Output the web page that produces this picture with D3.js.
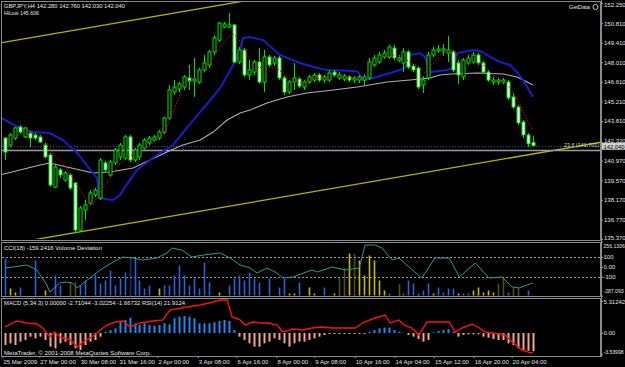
<!DOCTYPE html>
<html><head><meta charset="utf-8">
<script src="https://cdn.jsdelivr.net/npm/d3@7"></script>
<style>html,body{margin:0;padding:0;background:#000;}svg{display:block;}text{font-family:"Liberation Sans",Arial,sans-serif;}</style>
</head><body><svg id="c" width="625" height="367"></svg>
<script>
// ---------- DATA ----------
const open = [142.59,142.09,142.59,143.38,142.67,142.95,142.81,142.67,142.09,141.38,
 139.09,140.31,139.59,139.95,139.38,136.01,137.44,137.94,138.52,138.30,
 140.81,139.95,140.81,141.24,141.16,142.67,141.02,141.24,141.88,142.24,
 142.45,142.59,143.02,144.02,145.88,146.10,146.24,146.89,146.67,146.60,
 147.46,147.82,148.75,149.60,150.53,150.53,150.68,148.03,148.89,147.10,
 147.31,148.03,146.60,148.39,147.96,148.32,146.89,145.88,146.60,146.81,
 146.24,146.60,146.74,147.10,146.74,146.74,147.31,146.89,146.81,146.96,
 146.74,146.74,146.74,146.89,147.82,148.03,148.39,148.39,149.03,148.17,
 147.96,148.75,147.74,147.60,146.39,146.89,148.53,148.82,148.82,148.67,
 148.75,147.96,146.96,147.96,148.03,148.53,147.96,147.31,146.60,146.60,
 146.60,146.60,145.53,144.81,143.74,142.81,142.28];
const high = [142.67,142.95,143.38,143.52,143.38,143.09,142.95,142.81,142.24,141.52,
 140.66,140.45,140.23,140.09,139.45,137.73,138.16,138.87,139.02,141.16,
 140.95,141.02,141.88,142.24,142.81,142.81,141.88,142.24,142.59,142.74,
 142.81,143.17,144.10,146.39,146.74,146.60,147.10,147.82,148.32,147.60,
 148.53,148.89,149.96,150.89,150.89,151.53,150.75,149.10,149.03,148.17,
 148.17,149.03,148.89,148.53,148.46,148.46,147.03,146.74,147.96,146.96,
 146.74,147.10,147.24,147.24,147.10,147.46,147.46,147.31,147.17,147.10,
 147.03,147.10,147.17,148.32,148.53,148.75,148.89,149.25,149.25,148.53,
 149.03,148.89,147.89,147.74,147.03,148.75,149.10,149.25,149.32,149.89,
 148.89,148.17,148.32,148.53,148.75,148.67,148.10,147.46,146.96,146.89,
 146.89,146.74,145.81,144.95,143.88,142.95,142.76];
const low = [141.02,141.95,142.45,142.88,142.59,141.95,142.45,142.24,141.16,139.09,
 139.02,139.73,139.45,138.87,135.80,135.87,136.73,137.80,138.37,138.16,
 140.16,139.80,140.66,141.02,141.02,140.88,140.88,141.02,141.74,142.09,
 142.31,142.45,142.88,143.88,145.67,145.88,146.03,146.03,145.53,146.46,
 147.31,147.60,148.53,149.46,150.46,150.46,147.96,147.89,146.96,146.74,
 147.10,146.46,145.88,147.67,147.74,146.74,145.67,145.74,146.03,146.17,
 146.03,146.46,146.60,146.60,146.53,146.60,146.96,146.74,146.67,146.60,
 146.53,146.53,146.39,146.74,147.67,147.89,148.25,148.25,148.17,148.03,
 147.31,147.53,147.31,146.10,145.81,146.74,148.39,148.67,148.46,148.03,
 147.31,146.46,146.74,147.82,147.89,147.82,147.17,146.60,146.39,146.39,
 146.46,145.31,144.67,143.52,142.59,141.95,142.03];
const close = [141.59,142.81,143.31,143.02,143.31,142.59,142.59,142.31,141.24,139.23,
 140.52,139.95,140.09,139.02,136.01,137.59,137.80,138.66,138.87,141.02,
 140.31,140.88,141.74,142.09,142.67,141.02,141.74,142.09,142.45,142.59,
 142.67,143.02,144.02,146.03,146.24,146.46,146.96,146.67,146.81,147.46,
 147.96,148.75,149.75,150.82,150.75,150.68,148.03,148.89,147.10,147.46,
 148.03,146.60,148.39,147.82,148.32,146.89,145.88,146.60,146.89,146.31,
 146.60,146.96,147.10,146.74,146.96,147.24,147.10,147.10,147.03,146.74,
 146.89,146.96,146.96,148.03,148.32,148.53,148.67,149.10,148.32,148.32,
 148.75,147.67,147.46,146.24,146.74,148.53,148.89,148.96,148.96,148.89,
 147.46,147.10,148.17,148.32,148.53,147.96,147.31,146.74,146.74,146.74,
 146.74,145.46,144.81,143.67,142.81,142.17,142.04];

// moving-average style lines: [bar index, price]
const maBlue = [[-1,144.10],[1,143.67],[3,143.31],[5.6,143.02],[9,142.95],[11.6,142.45],[14.5,141.52],[16.7,140.52],[18.5,139.73],[18.9,138.30],[21.7,138.16],[23.1,138.52],[24.5,139.30],[26.5,140.31],[29.1,141.02],[31.1,141.52],[33.7,142.09],[36.5,143.31],[39.2,144.46],[41.2,145.31],[43.2,146.17],[45.8,147.82],[47.2,148.89],[47.8,149.75],[49.2,149.82],[51.8,149.60],[55.2,148.53],[59.2,147.96],[62.7,147.60],[64.7,147.46],[69.9,147.39],[70.9,147.31],[71.9,146.74],[73.9,146.89],[79.3,147.46],[80.3,147.60],[81.3,148.53],[83.3,148.67],[84.3,148.39],[85.3,147.31],[88.8,147.46],[89.8,147.60],[90.8,148.67],[94.0,148.89],[95.4,148.82],[97.4,148.39],[99.4,148.03],[101.4,147.82],[102.8,147.31],[104.0,146.74],[106.0,145.53]];
const maRed = [[-1,142.59],[1,142.67],[3,142.81],[5,142.95],[7,142.81],[8.4,142.24],[9.6,141.52],[11.6,140.81],[13.5,139.80],[15.1,138.87],[16.7,138.02],[17.7,137.80],[18.7,138.52],[20.5,139.45],[22.5,140.52],[24.5,141.16],[26.5,141.59],[28.5,141.95],[30.5,142.45],[32.1,143.02],[33.1,143.88],[35.5,146.03],[37.1,146.74],[39.2,147.10],[41.2,148.03],[43.2,149.10],[45.6,150.10],[46.8,149.75],[47.8,149.10],[49.2,148.17],[50.6,147.67],[52.6,147.60],[54.6,147.60],[56.6,146.96],[59.2,146.53],[61.2,146.74],[63.3,146.89],[65.9,146.96],[68.7,146.89],[71.3,146.89],[72.7,147.31],[74.7,148.03],[76.7,148.53],[78.7,148.53],[79.9,148.32],[81.3,148.03],[82.7,147.82],[84.3,147.24],[85.9,147.96],[87.9,148.67],[89.8,148.89],[90.8,148.53],[92.4,148.03],[94.4,148.03],[96.0,147.82],[97.4,147.31],[99.4,146.74],[101.4,146.17],[102.8,145.46],[104.8,143.88],[106.0,143.17]];
const maGray = [[-1,139.95],[3,140.31],[7,140.66],[9,140.81],[12.4,140.52],[15.1,140.31],[17.7,140.09],[21.1,140.16],[25.7,140.45],[29.1,141.02],[32.5,141.59],[35.7,142.09],[39.2,142.45],[41.8,143.02],[44.6,143.88],[47.2,144.38],[49.2,144.60],[52.6,145.10],[56.6,145.53],[60.6,145.81],[65.9,146.03],[70.7,146.24],[76.7,146.60],[81.3,146.74],[85.3,146.89],[87.3,147.10],[89.4,147.17],[94.8,147.24],[100.0,147.17],[102.8,146.96],[106.0,146.39]];

// trend channel: [bar index, price] end points
const channelUpper = [[-1,149.39],[120,156.80]];
const channelLower = [[-1,134.90],[120,142.31]];
const bidPrice = 142.04;
const fibLevel = 141.701;
const fibLabel = "23.6 (141.701)";

const priceTicks = [152.25,150.81,149.41,148.01,146.61,145.21,143.81,142.32,140.97,139.57,138.17,136.77,135.37];

// CCI(18): [bar index, value]
const cci = [[0,-10],[1.6,0],[4.4,20],[6.4,-30],[8.4,-180],[9,-250],[11,-160],[12.4,-150],[13.5,-160],[14.5,-210],[16.5,-130],[19.1,-30],[21.7,50],[23.7,100],[25.7,90],[27.7,70],[30.5,90],[32.5,140],[33.5,190],[35.5,170],[37.5,100],[39.8,120],[43.2,140],[45.2,90],[47.2,20],[49.2,-10],[50.6,-60],[52.6,-10],[54.6,-60],[55.8,-110],[57.8,-100],[61.6,-30],[62.7,-50],[65.7,0],[68.3,-30],[71.1,-10],[72.3,220],[74.3,220],[75.7,190],[77.7,70],[79.1,90],[81.1,0],[83.7,-110],[86.3,90],[89.2,90],[91.2,-100],[94.4,40],[97.2,-110],[99.8,-100],[101.8,-200],[103.2,-210],[106,-159]];
const cciTicks = [256.1336,100,0,-100,-287.093];
const cciTickLabels = ["256.1336","100","0.00","-100","-287.093"];

// Volume deviation histogram
const volIdx = [0,1,2,3,6,8,10,11,13,14,15,16,18,19,20,21,22,23,24,25,26,27,28,29,31,32,33,34,35,36,37,38,39,40,41,43,45,46,47,48,49,50,51,53,55,56,57,58,59,61,62,64,66,67,68,69,70,71,72,73,74,75,76,77,79,80,81,82,83,84,85,86,87,88,89,90,91,92,93,94,95,96,97,98,99,100,101,102,103,105];
const volVal = [37,7,3,8,35,5,20,10,13,13,10,15,21,12,15,25,10,17,23,38,37,15,7,10,7,10,10,20,30,20,10,17,7,33,13,3,10,17,20,15,23,17,13,17,8,17,2,2,13,8,2,8,2,18,27,42,42,35,20,40,35,15,5,2,12,2,15,12,2,5,12,2,8,3,7,7,2,2,2,5,8,3,5,3,12,18,3,8,8,5];
const volType = ["b","y","y","b","b","y","b","b","yh","yh","b","b","b","b","b","b","b","b","b","bh","b","b","b","b","y","b","b","b","b","b","b","b","b","b","b","y","b","b","b","b","b","b","b","b","b","b","y","y","b","y","y","b","y","yh","yh","y","yh","y","y","y","y","y","y","b","yh","b","b","b","b","b","b","y","b","b","b","b","y","b","b","y","y","y","y","y","yh","yh","b","yh","yh","b"];

// MACD histogram (per bar) and RSI(14)
const macdHist = [-2.0,-1.72,-2.0,-1.44,-1.16,-0.61,-0.89,-0.61,-1.16,-2.27,
 -2.55,-1.72,-1.44,-2.0,-2.55,-2.82,-2.0,-1.44,-1.16,-0.61,
 0.22,0.50,0.78,1.88,2.16,2.55,1.61,1.33,1.61,1.33,
 1.22,1.33,1.61,1.44,2.44,2.71,2.82,2.71,2.44,1.61,
 1.61,1.61,1.77,1.99,2.16,1.99,0.50,-0.61,-1.16,-1.72,
 -2.27,-2.27,-1.72,-1.44,-0.89,-1.16,-1.72,-2.27,-1.72,-1.44,
 -1.44,-1.16,-0.89,-0.61,-0.33,-0.17,-0.17,-0.17,-0.17,-0.17,
 -0.17,-0.17,-0.17,0.22,0.50,0.78,0.89,0.89,0.50,0.22,
 0.06,-0.33,-0.61,-1.0,-1.44,-1.16,0.11,0.33,0.50,0.66,
 0.22,-0.61,-0.33,-0.22,-0.22,-0.22,-0.61,-0.78,-1.0,-1.16,
 -1.16,-1.72,-1.99,-2.55,-2.82,-2.95,-3.02];
const rsi = [[0,49.7],[2.4,56.1],[4.4,54.0],[6.4,52.9],[7.6,48.6],[9,39.0],[10,44.3],[11,39.0],[13.1,35.8],[14.5,28.3],[15.7,33.7],[17.1,37.9],[18.5,43.3],[19.1,46.5],[20.5,51.8],[22.1,55.0],[23.7,56.1],[25.1,49.7],[27.1,54.0],[29.7,56.1],[31.7,57.2],[33.1,67.8],[36.5,71.0],[39.2,73.2],[41.8,76.4],[43.2,78.5],[44.6,78.5],[45.6,60.4],[47.2,57.2],[48.2,51.8],[49.8,55.0],[51.6,54.0],[52.8,54.0],[54.6,51.8],[55.8,44.3],[57.8,47.5],[59.8,46.5],[61.6,48.6],[63.7,49.7],[65.7,48.6],[67.7,48.6],[70.3,48.6],[72.1,55.0],[74.3,59.3],[76.3,62.5],[77.3,54.0],[79.1,57.2],[80.1,51.8],[81.7,48.6],[83.1,41.1],[84.7,55.0],[87.8,55.0],[89.2,55.0],[90.4,44.3],[91.8,48.6],[93.8,52.9],[95.2,48.6],[96.4,44.3],[99.2,42.2],[100.4,41.1],[101.8,33.7],[103.8,25.1],[105.2,22.6],[106,21.91]];
const macdTicks = [5.31242,0,-3.53998];
const macdTickLabels = ["5.31242","0.00","-3.53998"];

const timeIdx = [-0.6,6.8,14.9,22.7,30.5,38.6,46.4,54.4,62.0,70.1,78.1,86.0,94.0,101.6];
const timeLabels = ["25 Mar 2009","27 Mar 00:00","30 Mar 08:00","31 Mar 16:00","2 Apr 00:00","3 Apr 08:00","6 Apr 16:00","8 Apr 00:00","9 Apr 08:00","10 Apr 16:00","14 Apr 04:00","15 Apr 12:00","16 Apr 20:00","20 Apr 04:00"];

const titleMain = "GBPJPY,H4  142.280 142.760 142.030 142.040";
const titleHiLow = "HiLow 145.606";
const titleCCI = "CCI(18) -159.2416  Volume Deviation";
const titleMACD = "MACD (5,34,3) 0.00000 -2.71044 -3.02254 -1.66732  RSI(14) 21.9124";
const copyright = "MetaTrader, \u00A9 2001-2008 MetaQuotes Software Corp.";

// ---------- DRAW ----------
const FONT = '"Liberation Sans",Arial,sans-serif';
const svg = d3.select('#c');
const R = 601;
svg.append('rect').attr('width',625).attr('height',367).attr('fill','#000');
const defs = svg.append('defs');
defs.append('clipPath').attr('id','cm').append('rect').attr('x',2).attr('y',2).attr('width',R-2).attr('height',237);
defs.append('clipPath').attr('id','cc').append('rect').attr('x',2).attr('y',243).attr('width',R-2).attr('height',53);
defs.append('clipPath').attr('id','cd').append('rect').attr('x',2).attr('y',299).attr('width',R-2).attr('height',57);

const x = d3.scaleLinear().domain([0,106]).range([5,533]);
const yP = d3.scaleLinear().domain([135.37,152.25]).range([239,3]);
const yC = d3.scaleLinear().domain([-287.093,256.1336]).range([295.7,241.4]);
const yV = d3.scaleLinear().domain([0,54]).range([295.5,241.5]);
const yM = d3.scaleLinear().domain([-3.53998,5.31242]).range([354.3,301]);
const yR = d3.scaleLinear().domain([21.91,78.5]).range([353,300]);

// panel borders
[[1,1,240],[1,242,296],[1,298,356]].forEach(([x0,t,b])=>{
  svg.append('rect').attr('x',x0+0.5).attr('y',t+0.5).attr('width',R-x0-1).attr('height',b-t)
    .attr('fill','none').attr('stroke','#8a8a8a').attr('stroke-width',1);
});

// main chart
const gm = svg.append('g').attr('clip-path','url(#cm)');
const lineP = d3.line().x(d=>x(d[0])).y(d=>yP(d[1]));
gm.append('path').attr('d',lineP(channelUpper)).attr('stroke','#b8b400').attr('stroke-width',1.3).attr('fill','none');
gm.append('path').attr('d',lineP(channelLower)).attr('stroke','#b8b400').attr('stroke-width',1.3).attr('fill','none');
gm.append('line').attr('x1',2).attr('x2',R).attr('y1',Math.round(yP(bidPrice))+0.5).attr('y2',Math.round(yP(bidPrice))+0.5)
  .attr('stroke','#4a4aa8').attr('stroke-dasharray','1,2');
gm.append('line').attr('x1',2).attr('x2',R).attr('y1',yP(fibLevel)).attr('y2',yP(fibLevel))
  .attr('stroke','#9a9a9a').attr('stroke-width',1.5);
gm.append('path').attr('d',lineP(maGray)).attr('stroke','#b0b0b0').attr('stroke-width',1.1).attr('fill','none');
gm.append('path').attr('d',lineP(maBlue)).attr('stroke','#1c1cc8').attr('stroke-width',2).attr('fill','none');

const idx = d3.range(open.length);
const cx = i => Math.round(x(i));
gm.selectAll('line.wick').data(idx).join('line').attr('class','wick')
  .attr('x1',i=>cx(i)+0.5).attr('x2',i=>cx(i)+0.5)
  .attr('y1',i=>yP(high[i])).attr('y2',i=>yP(low[i]))
  .attr('stroke','#00e000').attr('stroke-width',1);
gm.selectAll('rect.body').data(idx).join('rect').attr('class','body')
  .attr('x',i=>cx(i)-1).attr('width',3)
  .attr('y',i=>Math.min(yP(open[i]),yP(close[i])))
  .attr('height',i=>Math.max(1,Math.abs(yP(open[i])-yP(close[i]))))
  .attr('fill',i=>close[i]>=open[i]?'#000':'#ffffff')
  .attr('stroke','#00e000').attr('stroke-width',1);
gm.append('path').attr('d',lineP(maRed)).attr('stroke','#e80000').attr('stroke-width',1).attr('stroke-dasharray','1.5,1.5').attr('fill','none');

const txt = (s,xx,yy,opt={})=>{
  const t = svg.append('text').attr('x',xx).attr('y',yy).text(s)
    .attr('font-size',opt.size||6).attr('fill',opt.fill||'#e8e8e8');
  if(opt.anchor) t.attr('text-anchor',opt.anchor);
  if(opt.len) t.attr('textLength',opt.len).attr('lengthAdjust','spacingAndGlyphs');
  return t;
};
txt(fibLabel,599,yP(fibLevel)-3.5,{anchor:'end',len:35,fill:'#d8d8d8'});
txt(titleMain,4,7.5,{len:121});
txt(titleHiLow,4,14.5,{len:35});
txt('GetData',590,9,{anchor:'end',len:21});
svg.append('circle').attr('cx',595.5).attr('cy',7).attr('r',2.5).attr('fill','none').attr('stroke','#c8c8c8').attr('stroke-width',1);

// CCI panel
const gc = svg.append('g').attr('clip-path','url(#cc)');
[100,-100].forEach(v=>{
  gc.append('line').attr('x1',2).attr('x2',R).attr('y1',Math.round(yC(v))+0.5).attr('y2',Math.round(yC(v))+0.5)
    .attr('stroke','#9a9a9a').attr('stroke-dasharray','2,2');
});
const volColor = {b:'#2a62d8',bh:'#2a62d8',y:'#c8bc00',yh:'#a89c00'};
gc.selectAll('line.vol').data(volIdx).join('line').attr('class','vol')
  .attr('x1',(d)=>cx(d)+0.5).attr('x2',(d)=>cx(d)+0.5)
  .attr('y1',yV(0)).attr('y2',(d,i)=>yV(volVal[i]))
  .attr('stroke',(d,i)=>volColor[volType[i]]).attr('stroke-width',1.6)
  .attr('stroke-dasharray',(d,i)=>volType[i].length>1?'1,1':null);
gc.append('path').attr('d',d3.line().x(d=>x(d[0])).y(d=>yC(d[1]))(cci))
  .attr('stroke','#2a9c9c').attr('stroke-width',1).attr('fill','none');
txt(titleCCI,4,250,{len:98});

// MACD panel
const gd = svg.append('g').attr('clip-path','url(#cd)');
gd.selectAll('line.hist').data(idx).join('line').attr('class','hist')
  .attr('x1',i=>cx(i)+0.5).attr('x2',i=>cx(i)+0.5)
  .attr('y1',yM(0)).attr('y2',i=>yM(macdHist[i]))
  .attr('stroke',i=>macdHist[i]>=0?'#2088f0':'#f2a688').attr('stroke-width',2);
gd.append('path').attr('d',d3.line().x(d=>x(d[0])).y(d=>yR(d[1]))(rsi))
  .attr('stroke','#ff1010').attr('stroke-width',1.4).attr('fill','none');
txt(titleMACD,4,305,{len:181});
txt(copyright,4,354.5,{len:147});

// right axes
svg.append('line').attr('x1',R+0.5).attr('x2',R+0.5).attr('y1',0).attr('y2',357).attr('stroke','#8a8a8a');
const styleAxis = (g, shifts) => { g.select('.domain').remove(); g.selectAll('line').attr('stroke','#9a9a9a');
  g.selectAll('text').attr('fill','#e0e0e0').attr('font-family',FONT)
   .attr('font-size',function(){ return d3.select(this).text().length>7 ? 5.1 : 6; })
   .attr('transform',(d,i)=>shifts&&shifts[i]?`translate(0,${shifts[i]})`:null); };
svg.append('g').attr('transform',`translate(${R},0)`)
  .call(d3.axisRight(yP).tickValues(priceTicks).tickFormat(d3.format('.3f')).tickSize(2).tickPadding(1))
  .call(g=>styleAxis(g,[1.5,0,0,0,0,0,0,-1.5,0,0,0,0,-1]));
svg.append('g').attr('transform',`translate(${R},0)`)
  .call(d3.axisRight(yC).tickValues(cciTicks).tickFormat((d,i)=>cciTickLabels[i]).tickSize(2).tickPadding(0.5))
  .call(g=>styleAxis(g,[4.5,0,0,0,-4.5]));
svg.append('g').attr('transform',`translate(${R},0)`)
  .call(d3.axisRight(yM).tickValues(macdTicks).tickFormat((d,i)=>macdTickLabels[i]).tickSize(2).tickPadding(0.5))
  .call(g=>styleAxis(g,[0.5,0,-2]));
// bid price box
const by = yP(bidPrice);
svg.append('rect').attr('x',R+1).attr('y',by-3).attr('width',24).attr('height',7).attr('fill','#d0d0d0');
svg.append('text').attr('x',R+2.5).attr('y',by+2.8).text(d3.format('.3f')(bidPrice)).attr('font-size',6).attr('fill','#000')
  .attr('textLength',21).attr('lengthAdjust','spacingAndGlyphs');

// time axis
const ta = svg.append('g').attr('transform','translate(0,356)')
  .call(d3.axisBottom(x).tickValues(timeIdx).tickFormat((d,i)=>timeLabels[i]).tickSize(2).tickPadding(2));
ta.select('.domain').remove();
ta.selectAll('line').attr('stroke','#9a9a9a').attr('transform','translate(0.5,0)');
ta.selectAll('text').attr('text-anchor','start').attr('dx',1).attr('fill','#e0e0e0')
  .attr('font-size',6).attr('font-family',FONT);
</script></body></html>
